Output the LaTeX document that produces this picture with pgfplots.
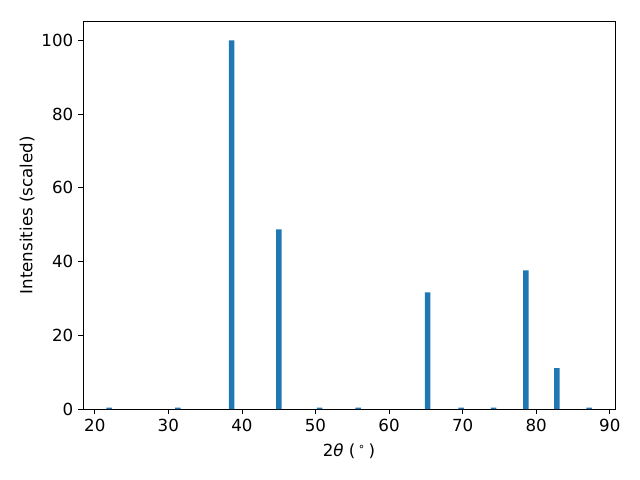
\documentclass[border=0pt]{standalone}
\usepackage{pgfplots}
\pgfplotsset{compat=1.18}
\usepackage{fontspec}
\setmainfont{DejaVu Sans}
\definecolor{mplblue}{HTML}{1F77B4}
\begin{document}
\begin{tikzpicture}
\useasboundingbox (-59.76pt,-51.12pt) rectangle (401.04pt,294.48pt);
\begin{axis}[
  at={(0,0)}, anchor=south west,
  scale only axis, width=383pt, height=279pt,
  xmin=18.4, xmax=90.7, ymin=0, ymax=105.1,
  xtick={20,30,...,90}, ytick={0,20,...,100},
  tick align=outside, tick pos=left,
  major tick length=3.5pt,
  tick style={black, line width=0.6pt},
  axis line style={line width=0.6pt},
  /pgf/number format/assume math mode=true,
  ticklabel style={font=\fontsize{12}{14}\selectfont},
  label style={font=\fontsize{12}{14}\selectfont},
  xlabel={2{\itshape θ} (\,\textsuperscript{∘}\,)},
  ylabel={Intensities (scaled)},
  xlabel style={yshift=-2pt},
  ylabel style={yshift=-2pt},
  ybar, bar width=0.75, bar shift=0pt,
]
\addplot[fill=mplblue, draw=none] coordinates {
(21.95,0.35) (31.3,0.35) (38.61,100) (45.03,48.7) (50.57,0.4) (55.8,0.35)
(65.23,31.6) (69.8,0.35) (74.2,0.35) (78.59,37.6) (82.8,11.1) (87.2,0.35)
};
\end{axis}
\end{tikzpicture}
\end{document}
